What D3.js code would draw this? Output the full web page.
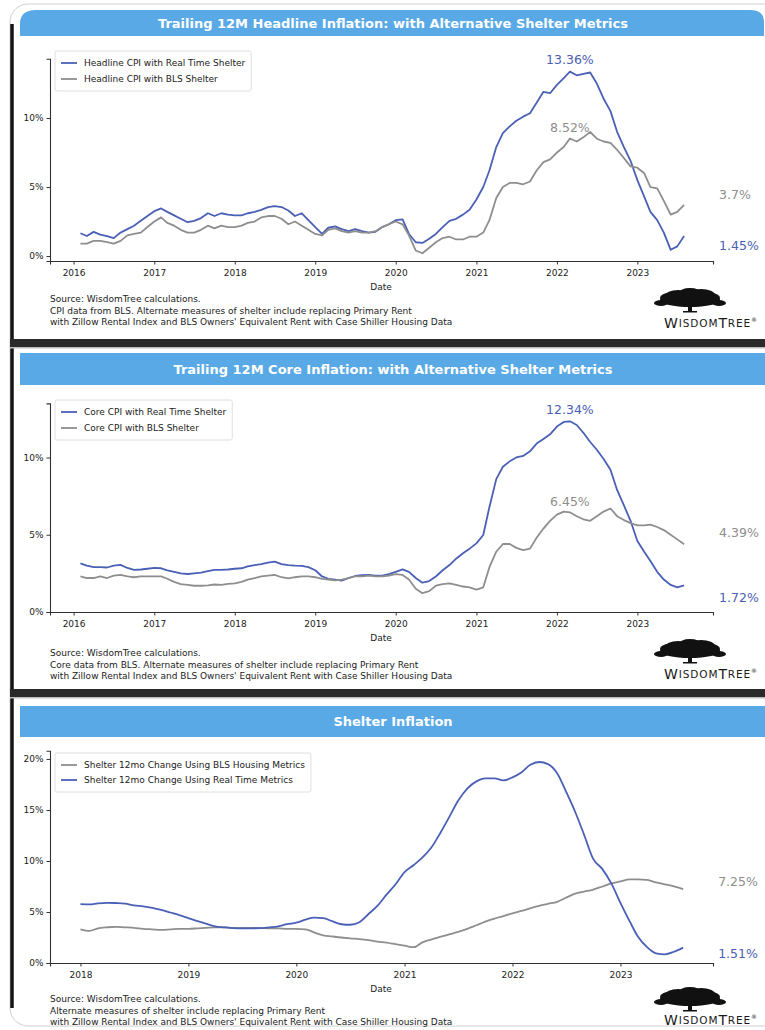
<!DOCTYPE html>
<html><head><meta charset="utf-8">
<script src="https://cdn.jsdelivr.net/npm/d3@7"></script>
<style>
html,body{margin:0;padding:0;background:#fff;}
svg{display:block;}
text{font-family:"DejaVu Sans",sans-serif;}
</style></head><body>
<svg id="c" width="765" height="1030"></svg>
<script>
// ---------------- DATA ----------------
// Monthly, Feb 2016 .. Aug 2023
const headlineRealTime = [
  1.65,1.45,1.75,1.55,1.45,1.3,1.7,1.95,2.2,2.55,2.9,
  3.25,3.45,3.2,2.95,2.7,2.45,2.55,2.75,3.1,2.9,3.1,3.0,
  2.95,2.95,3.1,3.2,3.35,3.55,3.62,3.55,3.3,2.9,3.1,2.6,
  2.1,1.6,2.05,2.15,1.95,1.8,1.95,1.8,1.7,1.75,2.1,2.3,
  2.6,2.65,1.6,1.0,0.95,1.25,1.6,2.1,2.55,2.7,3.0,3.35,
  4.1,5.0,6.2,7.9,8.9,9.4,9.8,10.1,10.35,11.1,11.9,11.8,
  12.4,12.9,13.36,13.1,13.2,13.3,12.5,11.4,10.5,9.0,7.9,6.9,
  5.5,4.3,3.2,2.6,1.7,0.45,0.7,1.45
];
const headlineBLS = [
  0.9,0.9,1.1,1.1,1.0,0.9,1.1,1.5,1.6,1.7,2.1,
  2.5,2.8,2.4,2.2,1.9,1.7,1.7,1.9,2.2,2.0,2.2,2.1,
  2.1,2.2,2.4,2.5,2.8,2.9,2.9,2.7,2.3,2.5,2.2,1.9,
  1.6,1.5,1.9,2.0,1.8,1.7,1.8,1.7,1.7,1.8,2.1,2.3,
  2.5,2.3,1.5,0.4,0.2,0.6,1.0,1.3,1.4,1.2,1.2,1.4,
  1.4,1.7,2.6,4.2,5.0,5.3,5.3,5.2,5.4,6.2,6.8,7.0,
  7.5,7.9,8.52,8.3,8.6,9.0,8.5,8.3,8.2,7.7,7.1,6.5,
  6.4,6.0,5.0,4.9,4.0,3.0,3.2,3.7
];
const coreRealTime = [
  3.15,3.0,2.9,2.9,2.88,3.0,3.05,2.85,2.72,2.75,2.8,
  2.85,2.83,2.7,2.6,2.5,2.46,2.5,2.55,2.65,2.72,2.72,2.75,
  2.8,2.83,2.95,3.04,3.1,3.2,3.26,3.1,3.04,3.0,2.98,2.9,
  2.7,2.3,2.15,2.1,2.03,2.2,2.33,2.38,2.4,2.35,2.35,2.45,
  2.6,2.76,2.6,2.2,1.9,2.0,2.3,2.7,3.04,3.45,3.8,4.1,
  4.44,4.98,6.8,8.6,9.4,9.75,10.0,10.1,10.4,10.9,11.2,11.5,
  12.0,12.3,12.34,12.1,11.6,11.0,10.5,9.9,9.2,7.9,6.9,5.9,
  4.6,3.9,3.3,2.6,2.1,1.75,1.6,1.72
];
const coreBLS = [
  2.3,2.2,2.2,2.3,2.2,2.35,2.4,2.3,2.25,2.3,2.3,
  2.3,2.3,2.15,1.95,1.8,1.75,1.7,1.7,1.72,1.78,1.75,1.82,
  1.85,1.95,2.1,2.2,2.3,2.35,2.4,2.25,2.18,2.25,2.3,2.3,
  2.25,2.15,2.1,2.05,2.1,2.2,2.3,2.3,2.35,2.3,2.3,2.35,
  2.45,2.4,2.1,1.5,1.22,1.35,1.7,1.8,1.85,1.75,1.65,1.6,
  1.45,1.6,2.9,3.9,4.4,4.4,4.15,4.0,4.1,4.8,5.4,5.9,
  6.3,6.5,6.45,6.2,6.0,5.9,6.2,6.5,6.7,6.2,5.95,5.75,
  5.6,5.6,5.65,5.5,5.3,5.0,4.7,4.39
];
// Monthly, Jan 2018 .. Aug 2023
const shelterBLS = [
  3.3,3.15,3.4,3.5,3.55,3.5,3.45,3.35,3.3,3.25,3.3,3.35,
  3.35,3.4,3.45,3.5,3.5,3.45,3.45,3.45,3.45,3.4,3.4,3.35,
  3.35,3.3,3.0,2.7,2.6,2.5,2.42,2.35,2.25,2.1,2.0,1.85,
  1.7,1.55,2.0,2.3,2.55,2.8,3.05,3.35,3.7,4.05,4.35,4.6,
  4.87,5.1,5.35,5.6,5.8,6.0,6.4,6.8,7.0,7.2,7.5,7.8,
  8.0,8.2,8.2,8.15,7.9,7.7,7.5,7.25
];
const shelterRealTime = [
  5.78,5.75,5.85,5.9,5.88,5.82,5.65,5.55,5.4,5.2,4.95,4.7,
  4.4,4.1,3.85,3.6,3.5,3.42,3.4,3.4,3.42,3.5,3.6,3.8,
  3.95,4.25,4.45,4.4,4.1,3.8,3.75,4.0,4.8,5.6,6.7,7.7,
  8.9,9.6,10.3,11.3,12.7,14.3,15.9,17.1,17.8,18.1,18.1,17.9,
  18.2,18.7,19.4,19.7,19.5,18.6,16.8,14.8,12.5,10.2,9.2,7.8,
  5.9,4.1,2.6,1.55,0.95,0.85,1.1,1.51
];
const monthsCPI = d3.timeMonth.range(new Date(2016,1,1), new Date(2023,8,1));
const monthsShelter = d3.timeMonth.range(new Date(2018,0,1), new Date(2023,8,1));
const yearTicksCPI = [2016,2017,2018,2019,2020,2021,2022,2023];
const yearTicksShelter = [2018,2019,2020,2021,2022,2023];
const yTicksCPI = [0,5,10];
const yTicksShelter = [0,5,10,15,20];
const titles = [
  "Trailing 12M Headline Inflation: with Alternative Shelter Metrics",
  "Trailing 12M Core Inflation: with Alternative Shelter Metrics",
  "Shelter Inflation"
];
const legendHeadline = ["Headline CPI with Real Time Shelter","Headline CPI with BLS Shelter"];
const legendCore = ["Core CPI with Real Time Shelter","Core CPI with BLS Shelter"];
const legendShelter = ["Shelter 12mo Change Using BLS Housing Metrics","Shelter 12mo Change Using Real Time Metrics"];
const sourceHeadline = ["Source: WisdomTree calculations.",
  "CPI data from BLS. Alternate measures of shelter include replacing Primary Rent",
  "with Zillow Rental Index and BLS Owners' Equivalent Rent with Case Shiller Housing Data"];
const sourceCore = ["Source: WisdomTree calculations.",
  "Core data from BLS. Alternate measures of shelter include replacing Primary Rent",
  "with Zillow Rental Index and BLS Owners' Equivalent Rent with Case Shiller Housing Data"];
const sourceShelter = ["Source: WisdomTree calculations.",
  "Alternate measures of shelter include replacing Primary Rent",
  "with Zillow Rental Index and BLS Owners' Equivalent Rent with Case Shiller Housing Data"];

// ---------------- STYLE ----------------
const BLUE = "#4a60b6", GRAY = "#8e8e8e", BAR = "#58a9e6";
const fmtPct = v => (+v.toFixed(2)) + "%";
const svg = d3.select("#c");

// frame
svg.append("rect").attr("x",10).attr("y",4).attr("width",800).attr("height",1022)
  .attr("rx",18).attr("fill","#fff").attr("stroke","#d0d0d0").attr("stroke-width",1);
svg.append("path").attr("d","M12,24 L12,1008").attr("stroke","#151515").attr("stroke-width",3.5).attr("fill","none");
[339,689].forEach(y=>{
  svg.append("rect").attr("x",10).attr("y",y).attr("width",755).attr("height",8).attr("fill","#2a2a2a");
  svg.append("rect").attr("x",10).attr("y",y+8).attr("width",755).attr("height",1.5).attr("fill","#bdbdbd");
});

const panels = [
  { bar:[10,26], rounded:true, title:titles[0], months:monthsCPI,
    series:[{v:headlineRealTime,c:BLUE,name:legendHeadline[0]},{v:headlineBLS,c:GRAY,name:legendHeadline[1]}],
    xDomain:[new Date(2015,8,16), new Date(2023,11,10)], yDomain:[-0.36,14.3], yRange:[261,58.7],
    xTicks:yearTicksCPI, yTicks:yTicksCPI, legendY:51, rowGap:16, source:sourceHeadline, srcY:299,
    peak:true, endDy:[9,-10], logoY:300, logoTextDy:23, curve:d3.curveLinear },
  { bar:[353,32], rounded:false, title:titles[1], months:monthsCPI,
    series:[{v:coreRealTime,c:BLUE,name:legendCore[0]},{v:coreBLS,c:GRAY,name:legendCore[1]}],
    xDomain:[new Date(2015,8,16), new Date(2023,11,10)], yDomain:[0,13.5], yRange:[612,403.4],
    xTicks:yearTicksCPI, yTicks:yTicksCPI, legendY:400, rowGap:16, source:sourceCore, srcY:653,
    peak:true, endDy:[12,-12], logoY:651, logoTextDy:23, curve:d3.curveLinear },
  { bar:[706,31], rounded:false, title:titles[2], months:monthsShelter,
    series:[{v:shelterBLS,c:GRAY,name:legendShelter[0]},{v:shelterRealTime,c:BLUE,name:legendShelter[1]}],
    xDomain:[new Date(2017,8,20), new Date(2023,10,10)], yDomain:[0,20.8], yRange:[963,750.8],
    xTicks:yearTicksShelter, yTicks:yTicksShelter, legendY:753, rowGap:15, source:sourceShelter, srcY:999,
    peak:false, endDy:[6,-8], logoY:999, logoTextDy:21, curve:d3.curveMonotoneX }
];

panels.forEach(p=>{
  // title bar
  const [by,bh]=p.bar;
  if(p.rounded){
    svg.append("path").attr("d",`M20,${by+bh} L20,${by+14} Q20,${by} 36,${by} L750,${by} Q764,${by} 764,${by+12} L764,${by+bh} Z`).attr("fill",BAR);
  } else {
    svg.append("rect").attr("x",20).attr("y",by).attr("width",745).attr("height",bh).attr("fill",BAR);
  }
  svg.append("text").attr("x",393).attr("y",by+bh/2).attr("dominant-baseline","central")
    .attr("text-anchor","middle").attr("fill","#fff").attr("font-weight","bold").attr("font-size",13)
    .text(p.title);

  const x = d3.scaleTime().domain(p.xDomain).range([50,713]);
  const y = d3.scaleLinear().domain(p.yDomain).range(p.yRange);
  const g = svg.append("g");

  // axes
  const xa = g.append("g").attr("transform",`translate(0,${p.yRange[0]})`)
    .call(d3.axisBottom(x).tickValues(p.xTicks.map(t=>new Date(t,0,1))).tickFormat(d3.timeFormat("%Y"))
      .tickSizeOuter(0).tickSize(3.5).tickPadding(5));
  const ya = g.append("g").attr("transform","translate(50,0)")
    .call(d3.axisLeft(y).tickValues(p.yTicks).tickFormat(d=>d+"%").tickSizeOuter(0).tickSize(3.5).tickPadding(3));
  [xa,ya].forEach(a=>{
    a.select(".domain").attr("stroke","#333").attr("stroke-width",1.1);
    a.selectAll(".tick line").attr("stroke","#333");
    a.selectAll(".tick text").attr("font-size",9).attr("fill","#222").attr("font-family","DejaVu Sans");
  });
  g.append("text").attr("x",381).attr("y",p.yRange[0]+26).attr("text-anchor","middle")
    .attr("dominant-baseline","central").attr("font-size",9).attr("fill","#222").text("Date");

  // lines
  const line = d3.line().x((d,i)=>x(p.months[i])).y(d=>y(d)).curve(p.curve);
  p.series.forEach(s=>{
    g.append("path").datum(s.v).attr("d",line).attr("fill","none")
      .attr("stroke",s.c).attr("stroke-width",1.8).attr("stroke-linejoin","round");
  });

  // legend
  const lg = g.append("g");
  const box = lg.append("rect").attr("x",55).attr("y",p.legendY).attr("rx",2)
    .attr("fill","#fff").attr("stroke","#d8d8d8").attr("stroke-width",0.8);
  let maxW=0;
  p.series.forEach((s,i)=>{
    const ry = p.legendY+12+i*p.rowGap;
    lg.append("line").attr("x1",61).attr("x2",77).attr("y1",ry).attr("y2",ry).attr("stroke",s.c).attr("stroke-width",1.8);
    const t = lg.append("text").attr("x",84).attr("y",ry).attr("dominant-baseline","central")
      .attr("font-size",9).attr("fill","#222").text(s.name);
    maxW=Math.max(maxW,t.node().getComputedTextLength());
  });
  box.attr("width",84+maxW+6-55).attr("height",p.rowGap*(p.series.length-1)+24);

  // peak annotations (at the real-time series peak date)
  const blue = p.series.find(s=>s.c===BLUE), gray = p.series.find(s=>s.c===GRAY);
  if(p.peak){
    const pi = d3.maxIndex(blue.v);
    [[blue,-12],[gray,-11]].forEach(([s,dy])=>{
      g.append("text").attr("x",x(p.months[pi])).attr("y",y(s.v[pi])+dy).attr("text-anchor","middle")
        .attr("dominant-baseline","central").attr("font-size",12.5).attr("fill",s.c).text(fmtPct(s.v[pi]));
    });
  }
  // end labels: endDy = [blue offset, gray offset]
  const last = p.months.length-1;
  [[blue,p.endDy[0]],[gray,p.endDy[1]]].forEach(([s,dy])=>{
    g.append("text").attr("x",x(p.months[last])+35).attr("y",y(s.v[last])+dy)
      .attr("dominant-baseline","central").attr("font-size",12.5).attr("fill",s.c).text(fmtPct(s.v[last]));
  });

  // source
  p.source.forEach((t,i)=>{
    g.append("text").attr("x",50).attr("y",p.srcY+i*11.7).attr("dominant-baseline","central")
      .attr("font-size",9).attr("fill","#222").text(t);
  });

  // logo
  const cx=690, cy=p.logoY, lo=g.append("g").attr("fill","#111");
  [[0,0,30,7],[-12,-4,13,6],[11,-5,14,6],[0,-7,11,5],[-29,3,7,3],[29,3,7,3],[-21,-2,9,5],[21,-2,9,5]]
    .forEach(([dx,dy,rx,ry])=>lo.append("ellipse").attr("cx",cx+dx).attr("cy",cy+dy).attr("rx",rx).attr("ry",ry));
  lo.append("rect").attr("x",cx-2).attr("y",cy+4).attr("width",4).attr("height",8);
  lo.append("rect").attr("x",cx-7).attr("y",cy+11).attr("width",14).attr("height",1.5);
  const lt = g.append("text").attr("x",711).attr("y",cy+p.logoTextDy).attr("text-anchor","middle")
    .attr("dominant-baseline","central").attr("font-family","Liberation Serif, DejaVu Serif, serif")
    .attr("fill","#1a1a1a").attr("letter-spacing",0.9);
  lt.append("tspan").attr("font-size",14).text("W");
  lt.append("tspan").attr("font-size",10.5).text("ISDOM");
  lt.append("tspan").attr("font-size",14).text("T");
  lt.append("tspan").attr("font-size",10.5).text("REE");
  lt.append("tspan").attr("font-size",6).attr("dy",-4).text("®");
});
</script>
</body></html>
